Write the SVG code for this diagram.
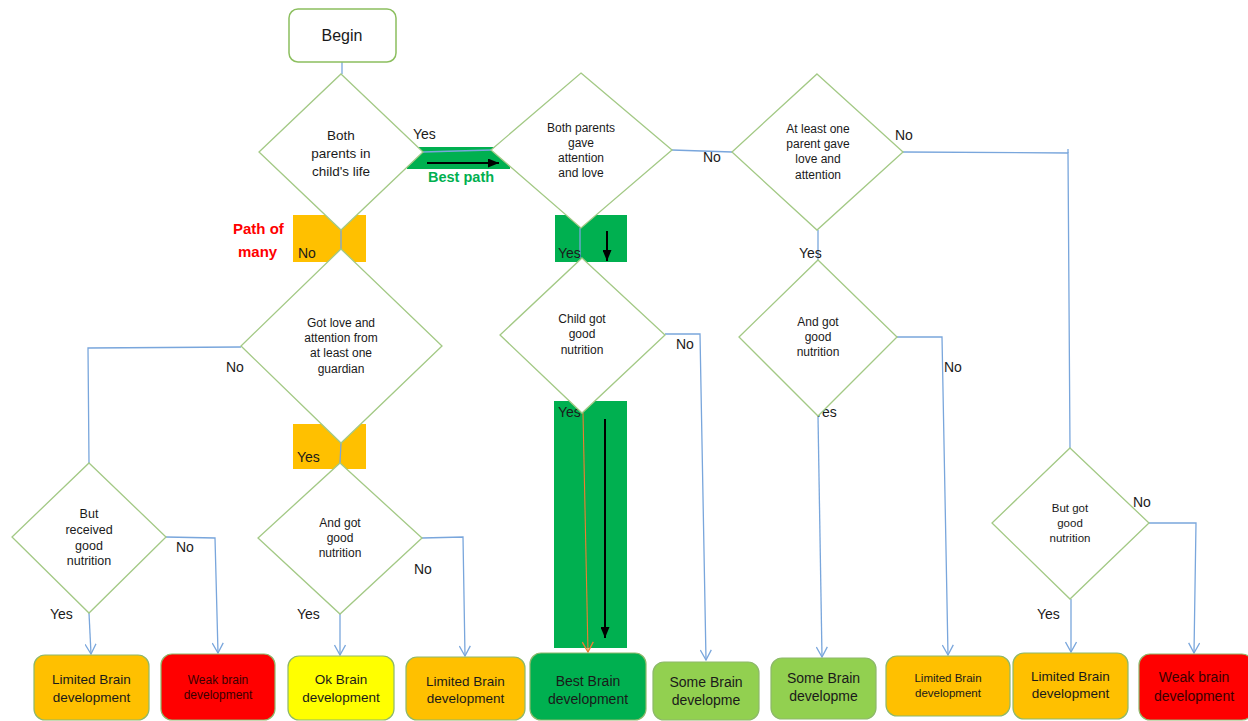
<svg xmlns="http://www.w3.org/2000/svg" width="1248" height="721" viewBox="0 0 1248 721">
<style>
  text { font-family: "Liberation Sans", Arial, sans-serif; fill: #1a1a1a; }
  .dia { fill: #ffffff; stroke: #a3c985; stroke-width: 1.3; }
  .box { stroke: #8db86a; stroke-width: 1.2; }
  .con { fill: none; stroke: #79a6dc; stroke-width: 1.3; }
  .lbl { font-size: 14px; }
  .dt { font-size: 12px; text-anchor: middle; }
  .bt { text-anchor: middle; }
  .orange { fill: #ffc000; }
  .red { fill: #ff0000; }
  .yellow { fill: #ffff00; }
  .green { fill: #00b050; }
  .lgreen { fill: #92d050; }
</style>
<defs>
  <marker id="ah" viewBox="0 0 12 12" refX="11" refY="6" markerWidth="12" markerHeight="12" orient="auto" markerUnits="userSpaceOnUse">
    <path d="M1,0.5 L11,6 L1,11.5" fill="none" stroke="#79a6dc" stroke-width="1.3"/>
  </marker>
  <marker id="aho" viewBox="0 0 12 12" refX="11" refY="6" markerWidth="12" markerHeight="12" orient="auto" markerUnits="userSpaceOnUse">
    <path d="M1,0.5 L11,6 L1,11.5" fill="none" stroke="#ed7d31" stroke-width="1.3"/>
  </marker>
  <marker id="ahb" viewBox="0 0 10 10" refX="10" refY="5" markerWidth="11" markerHeight="9" orient="auto" markerUnits="userSpaceOnUse" preserveAspectRatio="none">
    <path d="M0,0 L10,5 L0,10 Z" fill="#000000"/>
  </marker>
</defs>

<!-- highlight bands -->
<g id="highlights">
  <rect x="407" y="147" width="103" height="22" class="green"/>
  <rect x="293" y="215" width="73" height="47" class="orange"/>
  <rect x="555" y="215" width="72" height="47" class="green"/>
  <rect x="293" y="424" width="73" height="45" class="orange"/>
  <rect x="554" y="401" width="73" height="247" class="green"/>
</g>

<!-- connectors -->
<g id="connectors">
  <path class="con" d="M342,62 L342,74"/>
  <path class="con" d="M423,152 L491,150"/>
  <path class="con" d="M341,230 L341,249"/>
  <path class="con" d="M580,228 L580,258"/>
  <path class="con" d="M672,150 L732,152"/>
  <path class="con" d="M241,347 L88,348 L89,463"/>
  <path class="con" d="M341,443 L340,463"/>
  <path class="con" d="M818,230 L818,260"/>
  <path class="con" d="M903,152 L1068,153 L1070,448"/>
  <path class="con" d="M1068,149 L1068,153"/>
  <path d="M583,413 L588,652" fill="none" stroke="#ed7d31" stroke-width="1.1" marker-end="url(#aho)"/>
  <path class="con" d="M665,334 L700,334 L706,660" marker-end="url(#ah)"/>
  <path class="con" d="M818,416 L822,657" marker-end="url(#ah)"/>
  <path class="con" d="M897,337 L942,337 L948,655" marker-end="url(#ah)"/>
  <path class="con" d="M89,613 L91,654" marker-end="url(#ah)"/>
  <path class="con" d="M166,537 L215,538 L218,653" marker-end="url(#ah)"/>
  <path class="con" d="M340,614 L340,655" marker-end="url(#ah)"/>
  <path class="con" d="M422,538 L463,537 L465,656" marker-end="url(#ah)"/>
  <path class="con" d="M1071,599 L1071,652" marker-end="url(#ah)"/>
  <path class="con" d="M1149,523 L1196,523 L1194,653" marker-end="url(#ah)"/>
  <!-- black path arrows -->
  <path d="M427,163 L499,163" stroke="#000" stroke-width="2" marker-end="url(#ahb)"/>
  <path d="M607,231 L607,261" stroke="#000" stroke-width="2" marker-end="url(#ahb)"/>
  <path d="M605,419 L605,638" stroke="#000" stroke-width="2" marker-end="url(#ahb)"/>
</g>

<!-- connector labels -->
<g id="labels">
  <text x="413" y="139" class="lbl">Yes</text>
  <text x="428" y="182" style="font-size:14.5px;font-weight:bold;fill:#00b050">Best path</text>
  <text x="233" y="234" style="font-size:15px;font-weight:bold;fill:#ff0000">Path of</text>
  <text x="238" y="257" style="font-size:15px;font-weight:bold;fill:#ff0000">many</text>
  <text x="298" y="258" class="lbl">No</text>
  <text x="558" y="258" class="lbl">Yes</text>
  <text x="703" y="162" class="lbl">No</text>
  <text x="895" y="140" class="lbl">No</text>
  <text x="799" y="258" class="lbl">Yes</text>
  <text x="226" y="372" class="lbl">No</text>
  <text x="297" y="462" class="lbl">Yes</text>
  <text x="676" y="349" class="lbl">No</text>
  <text x="558" y="417" class="lbl">Yes</text>
  <text x="814" y="417" class="lbl">Yes</text>
  <text x="944" y="372" class="lbl">No</text>
  <text x="176" y="552" class="lbl">No</text>
  <text x="50" y="619" class="lbl">Yes</text>
  <text x="297" y="619" class="lbl">Yes</text>
  <text x="414" y="574" class="lbl">No</text>
  <text x="1133" y="507" class="lbl">No</text>
  <text x="1037" y="619" class="lbl">Yes</text>
</g>

<!-- nodes -->
<g id="begin">
  <rect x="289" y="9" width="107" height="53" rx="9" fill="#ffffff" stroke="#8cbf5f" stroke-width="1.5"/>
  <text x="342" y="41" class="bt" style="font-size:16px">Begin</text>
</g>
<g id="d-both-parents">
  <polygon class="dia" points="341,74 423,152 341,230 259,152"/>
  <text class="dt" style="font-size:13.5px"><tspan x="341" y="140">Both</tspan><tspan x="341" y="158">parents in</tspan><tspan x="341" y="176">child's life</tspan></text>
</g>
<g id="d-gave-attention">
  <polygon class="dia" points="581,73 672,150 581,228 491,150"/>
  <text class="dt"><tspan x="581" y="132">Both parents</tspan><tspan x="581" y="147">gave</tspan><tspan x="581" y="162">attention</tspan><tspan x="581" y="177">and love</tspan></text>
</g>
<g id="d-one-parent">
  <polygon class="dia" points="817,74 903,152 817,230 732,152"/>
  <text class="dt"><tspan x="818" y="133">At least one</tspan><tspan x="818" y="148">parent gave</tspan><tspan x="818" y="163">love and</tspan><tspan x="818" y="179">attention</tspan></text>
</g>
<g id="d-guardian">
  <polygon class="dia" points="341,249 442,346 341,443 241,346"/>
  <text class="dt"><tspan x="341" y="327">Got love and</tspan><tspan x="341" y="342">attention from</tspan><tspan x="341" y="357">at least one</tspan><tspan x="341" y="373">guardian</tspan></text>
</g>
<g id="d-child-nutrition">
  <polygon class="dia" points="582,258 665,335 582,413 500,335"/>
  <text class="dt"><tspan x="582" y="323">Child got</tspan><tspan x="582" y="338">good</tspan><tspan x="582" y="354">nutrition</tspan></text>
</g>
<g id="d-and-nutrition-right">
  <polygon class="dia" points="818,260 897,337 818,416 739,337"/>
  <text class="dt"><tspan x="818" y="326">And got</tspan><tspan x="818" y="341">good</tspan><tspan x="818" y="356">nutrition</tspan></text>
</g>
<g id="d-but-got-nutrition">
  <polygon class="dia" points="1070,448 1149,523 1070,599 992,523"/>
  <text class="dt" style="font-size:11.5px"><tspan x="1070" y="512">But got</tspan><tspan x="1070" y="527">good</tspan><tspan x="1070" y="542">nutrition</tspan></text>
</g>
<g id="d-received-nutrition">
  <polygon class="dia" points="89,463 166,537 89,613 12,537"/>
  <text class="dt" style="font-size:12.5px"><tspan x="89" y="518">But</tspan><tspan x="89" y="534">received</tspan><tspan x="89" y="550">good</tspan><tspan x="89" y="565">nutrition</tspan></text>
</g>
<g id="d-and-nutrition-left">
  <polygon class="dia" points="340,463 422,538 340,614 258,538"/>
  <text class="dt"><tspan x="340" y="527">And got</tspan><tspan x="340" y="542">good</tspan><tspan x="340" y="557">nutrition</tspan></text>
</g>

<!-- outcome boxes -->
<g id="o1">
  <rect x="34" y="655" width="115" height="65" rx="11" class="box orange"/>
  <text class="bt" style="font-size:13.5px"><tspan x="91.5" y="684">Limited Brain</tspan><tspan x="91.5" y="702">development</tspan></text>
</g>
<g id="o2">
  <rect x="161" y="654" width="114" height="66" rx="11" class="box red"/>
  <text class="bt" style="font-size:12px;fill:#3a0000"><tspan x="218" y="684">Weak brain</tspan><tspan x="218" y="699">development</tspan></text>
</g>
<g id="o3">
  <rect x="288" y="656" width="106" height="64" rx="11" class="box yellow"/>
  <text class="bt" style="font-size:13.5px"><tspan x="341" y="684">Ok Brain</tspan><tspan x="341" y="702">development</tspan></text>
</g>
<g id="o4">
  <rect x="406" y="657" width="119" height="63" rx="11" class="box orange"/>
  <text class="bt" style="font-size:13.5px"><tspan x="465.5" y="686">Limited Brain</tspan><tspan x="465.5" y="703">development</tspan></text>
</g>
<g id="o5">
  <rect x="530" y="653" width="116" height="67" rx="11" class="box green"/>
  <text class="bt" style="font-size:14px"><tspan x="588" y="686">Best Brain</tspan><tspan x="588" y="704">development</tspan></text>
</g>
<g id="o6">
  <rect x="653" y="662" width="106" height="58" rx="11" class="box lgreen"/>
  <text class="bt" style="font-size:14px"><tspan x="706" y="687">Some Brain</tspan><tspan x="706" y="705">developme</tspan></text>
</g>
<g id="o7">
  <rect x="771" y="658" width="105" height="61" rx="11" class="box lgreen"/>
  <text class="bt" style="font-size:14px"><tspan x="823.5" y="683">Some Brain</tspan><tspan x="823.5" y="701">developme</tspan></text>
</g>
<g id="o8">
  <rect x="886" y="656" width="124" height="60" rx="11" class="box orange"/>
  <text class="bt" style="font-size:11.5px"><tspan x="948" y="682">Limited Brain</tspan><tspan x="948" y="697">development</tspan></text>
</g>
<g id="o9">
  <rect x="1013" y="653" width="115" height="66" rx="11" class="box orange"/>
  <text class="bt" style="font-size:13.5px"><tspan x="1070.5" y="681">Limited Brain</tspan><tspan x="1070.5" y="698">development</tspan></text>
</g>
<g id="o10">
  <rect x="1139" y="654" width="114" height="66" rx="11" class="box red"/>
  <text class="bt" style="font-size:14px;fill:#3a0000"><tspan x="1194" y="682">Weak brain</tspan><tspan x="1194" y="701">development</tspan></text>
</g>
</svg>
